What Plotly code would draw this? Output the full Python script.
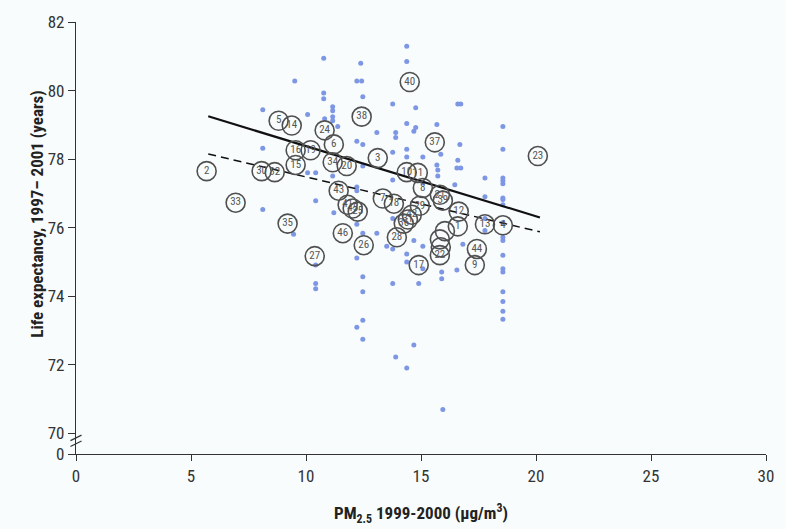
import plotly.graph_objects as go

# ---------------- data ----------------
# county-level small dots (PM2.5, life expectancy)
dot_x = [8.12, 8.12, 8.12,
         9.46, 9.51,
         10.07, 10.07,
         10.42, 10.42, 10.42, 10.42, 10.42,
         10.77, 10.77, 10.77, 10.81,
         11.16, 11.16, 11.16, 11.16, 11.16, 11.21,
         11.38,
         12.21, 12.21, 12.21, 12.21, 12.21, 12.21, 12.21,
         12.38, 12.42,
         12.47, 12.47, 12.47, 12.47, 12.47, 12.47, 12.47, 12.47,
         13.08, 13.08,
         13.77, 13.77, 13.77, 13.77, 13.77, 13.77,
         13.90, 13.90, 13.90,
         14.38, 14.38, 14.38, 14.38, 14.38, 14.38, 14.38, 14.38,
         14.77, 14.77, 14.69, 14.69, 14.69,
         15.08, 15.08, 15.08, 15.08, 14.90,
         15.69, 15.69, 15.86, 15.73, 15.73, 15.90, 15.90, 15.95,
         16.47, 16.60, 16.73, 16.69, 16.60, 16.56, 16.73, 16.82, 16.56,
         17.78, 17.78, 17.78, 17.78,
         18.56, 18.56, 18.56, 18.56, 18.56, 18.56, 18.56, 18.56, 18.56,
         18.56, 18.56, 18.56, 18.56, 18.56, 18.56, 18.56, 18.56, 18.56,
         13.51]
dot_y = [79.44, 78.32, 76.53,
         75.81, 80.28,
         79.30, 77.60,
         77.60, 76.79, 74.91, 74.37, 74.22,
         80.94, 79.93, 79.76, 79.18,
         79.53, 79.41, 79.24, 79.12, 77.51, 76.44,
         78.95,
         78.52, 77.19, 77.08, 76.10, 75.12, 73.10, 80.28,
         80.80, 80.28,
         79.82, 78.43, 77.80, 75.84, 74.57, 74.13, 73.30, 72.75,
         78.78, 75.84,
         79.61, 78.20, 77.39, 76.27, 75.38, 74.37,
         78.78, 78.63, 72.23,
         81.29, 80.85, 79.04, 78.29, 78.06, 75.23, 75.00, 71.91,
         79.50, 78.92, 78.81, 75.63, 72.58,
         78.06, 77.31, 75.46, 74.80, 74.37,
         79.01, 77.83, 78.14, 77.68, 77.51, 74.71, 74.51, 70.70,
         77.25, 79.61, 79.61, 78.43, 77.97, 77.74, 77.74, 75.52, 74.77,
         77.45, 76.90, 76.27, 75.92,
         78.95, 78.29, 77.45, 77.37, 77.28, 76.87, 76.82, 76.67, 76.15,
         75.72, 75.63, 75.20, 74.80, 74.71, 74.13, 73.85, 73.56, 73.33,
         75.46]

# numbered city circles
city_label = ["2", "33", "30", "32", "5", "14", "16", "19", "15", "24",
              "6", "34", "20", "38", "40", "3", "37", "23", "43", "41",
              "45", "25", "46", "26", "27", "35", "7", "18", "28", "10",
              "11", "8", "21", "39", "29", "42", "31", "36", "12", "13",
              "4", "44", "9", "17", "22", "1"]
city_x = [5.68, 6.94, 8.07, 8.64, 8.81, 9.38, 9.55, 10.20, 9.55, 10.81,
          11.21, 11.16, 11.77, 12.42, 14.51, 13.12, 15.60, 20.08, 11.42, 11.81,
          12.03, 12.25, 11.60, 12.51, 10.38, 9.20, 13.34, 13.82, 13.95, 14.38,
          14.86, 15.08, 15.82, 15.95, 14.95, 14.60, 14.43, 14.25, 16.64, 17.78,
          18.56, 17.43, 17.34, 14.90, 15.82, 16.60]
city_y = [77.65, 76.73, 77.65, 77.62, 79.12, 78.98, 78.26, 78.26, 77.83, 78.84,
          78.43, 77.91, 77.80, 79.24, 80.25, 78.03, 78.49, 78.09, 77.08, 76.67,
          76.56, 76.47, 75.84, 75.49, 75.17, 76.12, 76.85, 76.70, 75.72, 77.62,
          77.60, 77.16, 76.96, 76.79, 76.64, 76.38, 76.24, 76.12, 76.47, 76.10,
          76.07, 75.38, 74.91, 74.91, 75.20, 76.04]
# overlapping circles in the dense cluster whose numbers are hidden
hidden_x = [16.04, 15.82, 15.86]
hidden_y = [75.90, 75.66, 75.43]

# regression lines (end points)
fit_x = [5.75, 20.17]
fit_solid_y = [79.25, 76.30]
fit_dashed_y = [78.15, 75.88]

x_ticks = [0, 5, 10, 15, 20, 25, 30]
y_tickvals = [69.4, 70, 72, 74, 76, 78, 80, 82]
y_ticktext = ["0", "70", "72", "74", "76", "78", "80", "82"]

# ---------------- figure ----------------
FONT = "Liberation Sans Narrow, Roboto Condensed, DejaVu Sans Condensed, Arial Narrow, sans-serif"
BG = "#f8fcfc"
CIRC = "#505050"

fig = go.Figure()

fig.add_trace(go.Scatter(
    x=dot_x, y=dot_y, mode="markers",
    marker=dict(size=5, color="#7e97e4", line=dict(width=0)),
    hoverinfo="skip", showlegend=False))

fig.add_trace(go.Scatter(
    x=fit_x, y=fit_solid_y, mode="lines",
    line=dict(color="#111111", width=2.2), showlegend=False))
fig.add_trace(go.Scatter(
    x=fit_x, y=fit_dashed_y, mode="lines",
    line=dict(color="#111111", width=1.5, dash="8px,5px"), showlegend=False))

fig.add_trace(go.Scatter(
    x=hidden_x, y=hidden_y, mode="markers",
    marker=dict(size=19, color=CIRC, symbol="circle-open",
                line=dict(color=CIRC, width=1.6)),
    showlegend=False))
fig.add_trace(go.Scatter(
    x=city_x, y=city_y, mode="markers+text",
    text=city_label, textposition="middle center",
    textfont=dict(family=FONT, size=11, color="#555555"),
    marker=dict(size=19, color=CIRC, symbol="circle-open",
                line=dict(color=CIRC, width=1.6)),
    showlegend=False))

# axis break marks "//" on the y axis
for dy in (0.0, 0.17):
    fig.add_shape(type="line", xref="paper", yref="y",
                  x0=-0.008, x1=0.008, y0=69.62 + dy, y1=69.78 + dy,
                  line=dict(color="#333333", width=1.2))

fig.update_xaxes(range=[0, 30], tickvals=x_ticks, ticks="outside", ticklen=6,
                 tickcolor="#333333", showline=True, linecolor="#333333",
                 linewidth=1.3, showgrid=False, zeroline=False,
                 tickfont=dict(family=FONT, size=17, color="#333333"))
fig.update_yaxes(range=[69.4, 82], tickvals=y_tickvals, ticktext=y_ticktext,
                 ticks="outside", ticklen=7, tickcolor="#333333", showline=True,
                 linecolor="#333333", linewidth=1.3, showgrid=False, zeroline=False,
                 tickfont=dict(family=FONT, size=17, color="#333333"))

fig.add_annotation(text="<b>Life expectancy, 1997– 2001 (years)</b>",
                   xref="paper", yref="paper", x=-0.074, y=0.556, textangle=-90,
                   showarrow=False, font=dict(family=FONT, size=17, color="#222222"))
fig.add_annotation(text="<b>PM<sub>2.5</sub> 1999-2000 (µg/m<sup>3</sup>)</b>",
                   xref="paper", yref="paper", x=0.5, y=-0.138, yanchor="middle",
                   showarrow=False, font=dict(family=FONT, size=17, color="#222222"))

fig.update_layout(width=786, height=529, margin=dict(l=76, r=20, t=17, b=75),
                  paper_bgcolor=BG, plot_bgcolor=BG, showlegend=False)

fig.write_html("out.html")
